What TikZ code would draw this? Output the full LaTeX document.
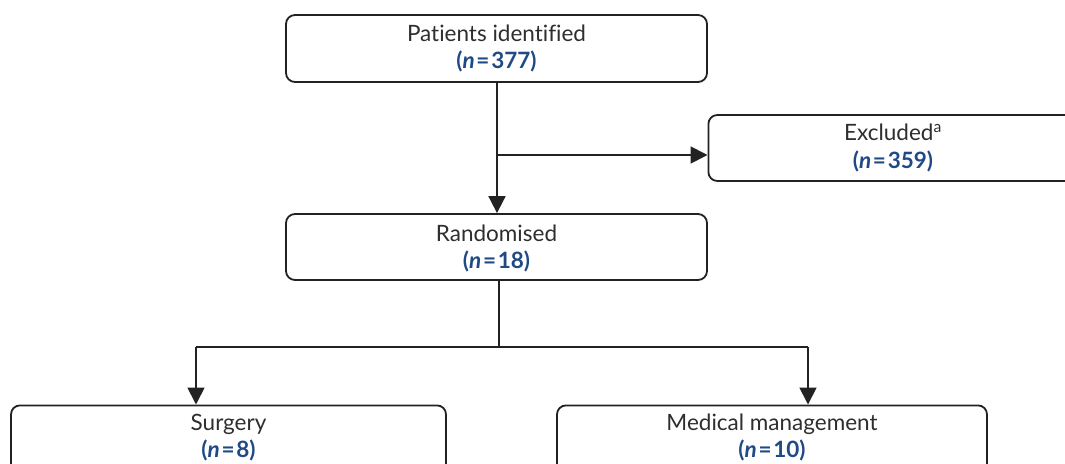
\documentclass[tikz,border=0pt]{standalone}
\usepackage{fontspec}
\setmainfont[Ligatures={NoCommon}]{Lato}
\usetikzlibrary{arrows.meta}
\definecolor{txtgray}{HTML}{2E2E2E}
\definecolor{nblue}{HTML}{1F4A85}
\definecolor{linec}{HTML}{222222}
\tikzset{
  box/.style={draw=linec, line width=1.8pt, rounded corners=9pt, rectangle, inner sep=0pt},
  lbl/.style={anchor=base, text=txtgray, font=\fontsize{22.5}{27}\selectfont, inner sep=0pt},
  nlbl/.style={anchor=base, text=nblue, font=\fontsize{22.5}{27}\selectfont\bfseries, inner sep=0pt},
  conn/.style={draw=linec, line width=1.8pt},
  arr/.style={conn, -{Triangle[length=17pt,width=17pt]}}
}
\newcommand{\nval}[1]{(\textit{n}\kern0.08em=\kern0.08em#1)}
\begin{document}
\begin{tikzpicture}[x=1pt,y=-1pt]
\useasboundingbox (0,0) rectangle (1065,463);
\clip (0,0) rectangle (1065,463);
% boxes
\node[box, minimum width=421pt, minimum height=67pt] (pat) at (496.5,48.5) {};
\node[box, minimum width=400pt, minimum height=66pt, anchor=west] (exc) at (707.5,148) {};
\node[box, minimum width=421pt, minimum height=66pt] (rand) at (496.5,247) {};
\node[box, minimum width=435pt, minimum height=80pt, anchor=north] (surg) at (228.5,404.5) {};
\node[box, minimum width=430pt, minimum height=80pt, anchor=north] (med) at (772,404.5) {};
% labels
\node[lbl] (patA) at (496.5,41.5) {Patients identified};
\node[nlbl] (patB) at (496.5,68.5) {\nval{377}};
\node[lbl] (excA) at (893,140.5) {Excluded\textsuperscript{a}};
\node[nlbl] (excB) at (893,168) {\nval{359}};
\node[lbl] (randA) at (496.5,241.5) {Randomised};
\node[nlbl] (randB) at (496.5,268) {\nval{18}};
\node[lbl] (surgA) at (228.5,430.5) {Surgery};
\node[nlbl] (surgB) at (228.5,457) {\nval{8}};
\node[lbl] (medA) at (772,430.5) {Medical management};
\node[nlbl] (medB) at (772,457) {\nval{10}};
% connectors
\coordinate (br) at (497,155);
\coordinate (sp) at (499,347);
\coordinate (sl) at (196,347);
\coordinate (sr) at (808,347);
\draw[arr] (pat.south -| br) -- (rand.north -| br);
\draw[arr] (br) -- (exc.west |- br);
\draw[conn] (rand.south -| sp) -- (sp);
\draw[conn] (sl) -- (sr);
\draw[arr] (sl) -- (surg.north -| sl);
\draw[arr] (sr) -- (med.north -| sr);
\end{tikzpicture}
\end{document}
